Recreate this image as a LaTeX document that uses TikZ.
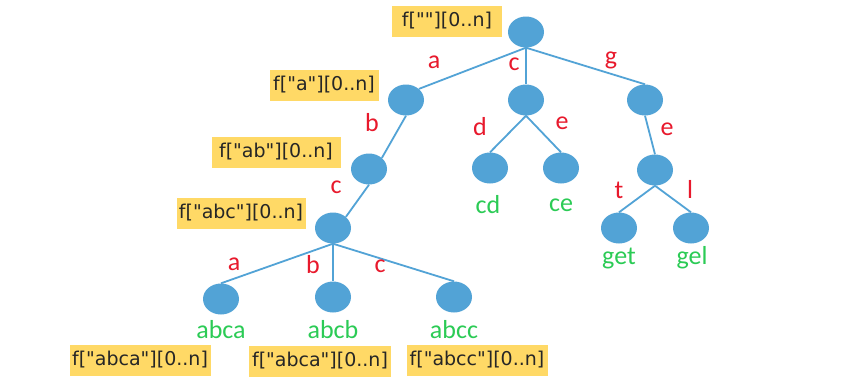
\documentclass[tikz,border=0pt]{standalone}
\usepackage{fontspec}
\newfontfamily\memofont{DejaVu Sans}
\newfontfamily\labfont{Carlito}
\usetikzlibrary{shapes.geometric}
\definecolor{trieblue}{HTML}{52A3D6}
\definecolor{memoyellow}{HTML}{FFD966}
\definecolor{edgered}{HTML}{E8192C}
\definecolor{leafgreen}{HTML}{2BCB55}

\begin{document}
\begin{tikzpicture}[x=1pt, y=-1pt,
    trienode/.style={ellipse, fill=trieblue, minimum width=36pt,
      minimum height=31pt, inner sep=0pt},
    memo/.style={fill=memoyellow, font=\memofont\fontsize{19}{22}\selectfont,
      inner sep=0pt, minimum height=31pt, text=black!85},
    chr/.style={font=\labfont\fontsize{26}{28}\selectfont, text=edgered},
    word/.style={font=\labfont\fontsize{26}{28}\selectfont, text=leafgreen},
    link/.style={draw=trieblue, line width=1.8pt}]
          \useasboundingbox[fill=white] (0,0) rectangle (864,384);
          % trie nodes
          \node[trienode] (root) at (526,32) {};
          \node[trienode] (na) at (406,100) {};
          \node[trienode] (nc) at (526,100) {};
          \node[trienode] (ng) at (645,100) {};
          \node[trienode] (nab) at (369,169) {};
          \node[trienode] (ncd) at (490,168) {};
          \node[trienode] (nce) at (561,168) {};
          \node[trienode] (nge) at (655,170) {};
          \node[trienode] (nabc) at (333,228) {};
          \node[trienode] (nget) at (619,228) {};
          \node[trienode] (ngel) at (691,228) {};
          \node[trienode] (nabca) at (221,299) {};
          \node[trienode] (nabcb) at (333,297) {};
          \node[trienode] (nabcc) at (454,297) {};
          % links
          \draw[link] (root.south) -- (na.north east);
          \draw[link] (root.south) -- (nc.north);
          \draw[link] (root.south) -- (ng.north);
          \draw[link] (na.south) -- (nab.north east);
          \draw[link] (nab.south) -- (nabc.north east);
          \draw[link] (nc.south) -- (ncd.north);
          \draw[link] (nc.south) -- (nce.north);
          \draw[link] (ng.south) -- (nge.north);
          \draw[link] (nge.south) -- (nget.north);
          \draw[link] (nge.south) -- (ngel.north);
          \draw[link] (nabc.south) -- (nabca.north);
          \draw[link] (nabc.south) -- (nabcb.north);
          \draw[link] (nabc.south) -- (nabcc.north);
          % edge characters
          \node[chr] (ca) at (434,62) {a};
          \node[chr] (cc) at (514,64) {c};
          \node[chr] (cg) at (611,60) {g};
          \node[chr] (cb) at (372,123) {b};
          \node[chr] (cd) at (480,127) {d};
          \node[chr] (ce) at (562,123) {e};
          \node[chr] (cge) at (667,129) {e};
          \node[chr] (cabc) at (336,187) {c};
          \node[chr] (ct) at (619,190) {t};
          \node[chr] (cl) at (690,189) {l};
          \node[chr] (ca2) at (234,264) {a};
          \node[chr] (cb2) at (313,265) {b};
          \node[chr] (cc2) at (380,266) {c};
          % words
          \node[word] (wcd) at (488,205) {cd};
          \node[word] (wce) at (561,205) {ce};
          \node[word] (wget) at (619,259) {get};
          \node[word] (wgel) at (692,258) {gel};
          \node[word] (wabca) at (221,330) {abca};
          \node[word] (wabcb) at (333,330) {abcb};
          \node[word] (wabcc) at (454,330) {abcc};
          % memo boxes
          \node[memo, minimum width=110pt] (mroot) at (447,21) {f[""][0..n]};
          \node[memo, minimum width=109pt] (ma) at (324,85) {f["a"][0..n]};
          \node[memo, minimum width=129pt] (mab) at (276,152) {f["ab"][0..n]};
          \node[memo, minimum width=129pt] (mabc) at (241,213) {f["abc"][0..n]};
          \node[memo, minimum width=141pt] (mabca) at (140,360) {f["abca"][0..n]};
          \node[memo, minimum width=142pt] (mabcb) at (320,361) {f["abca"][0..n]};
          \node[memo, minimum width=141pt] (mabcc) at (477,360) {f["abcc"][0..n]};
        \end{tikzpicture}
\end{document}
